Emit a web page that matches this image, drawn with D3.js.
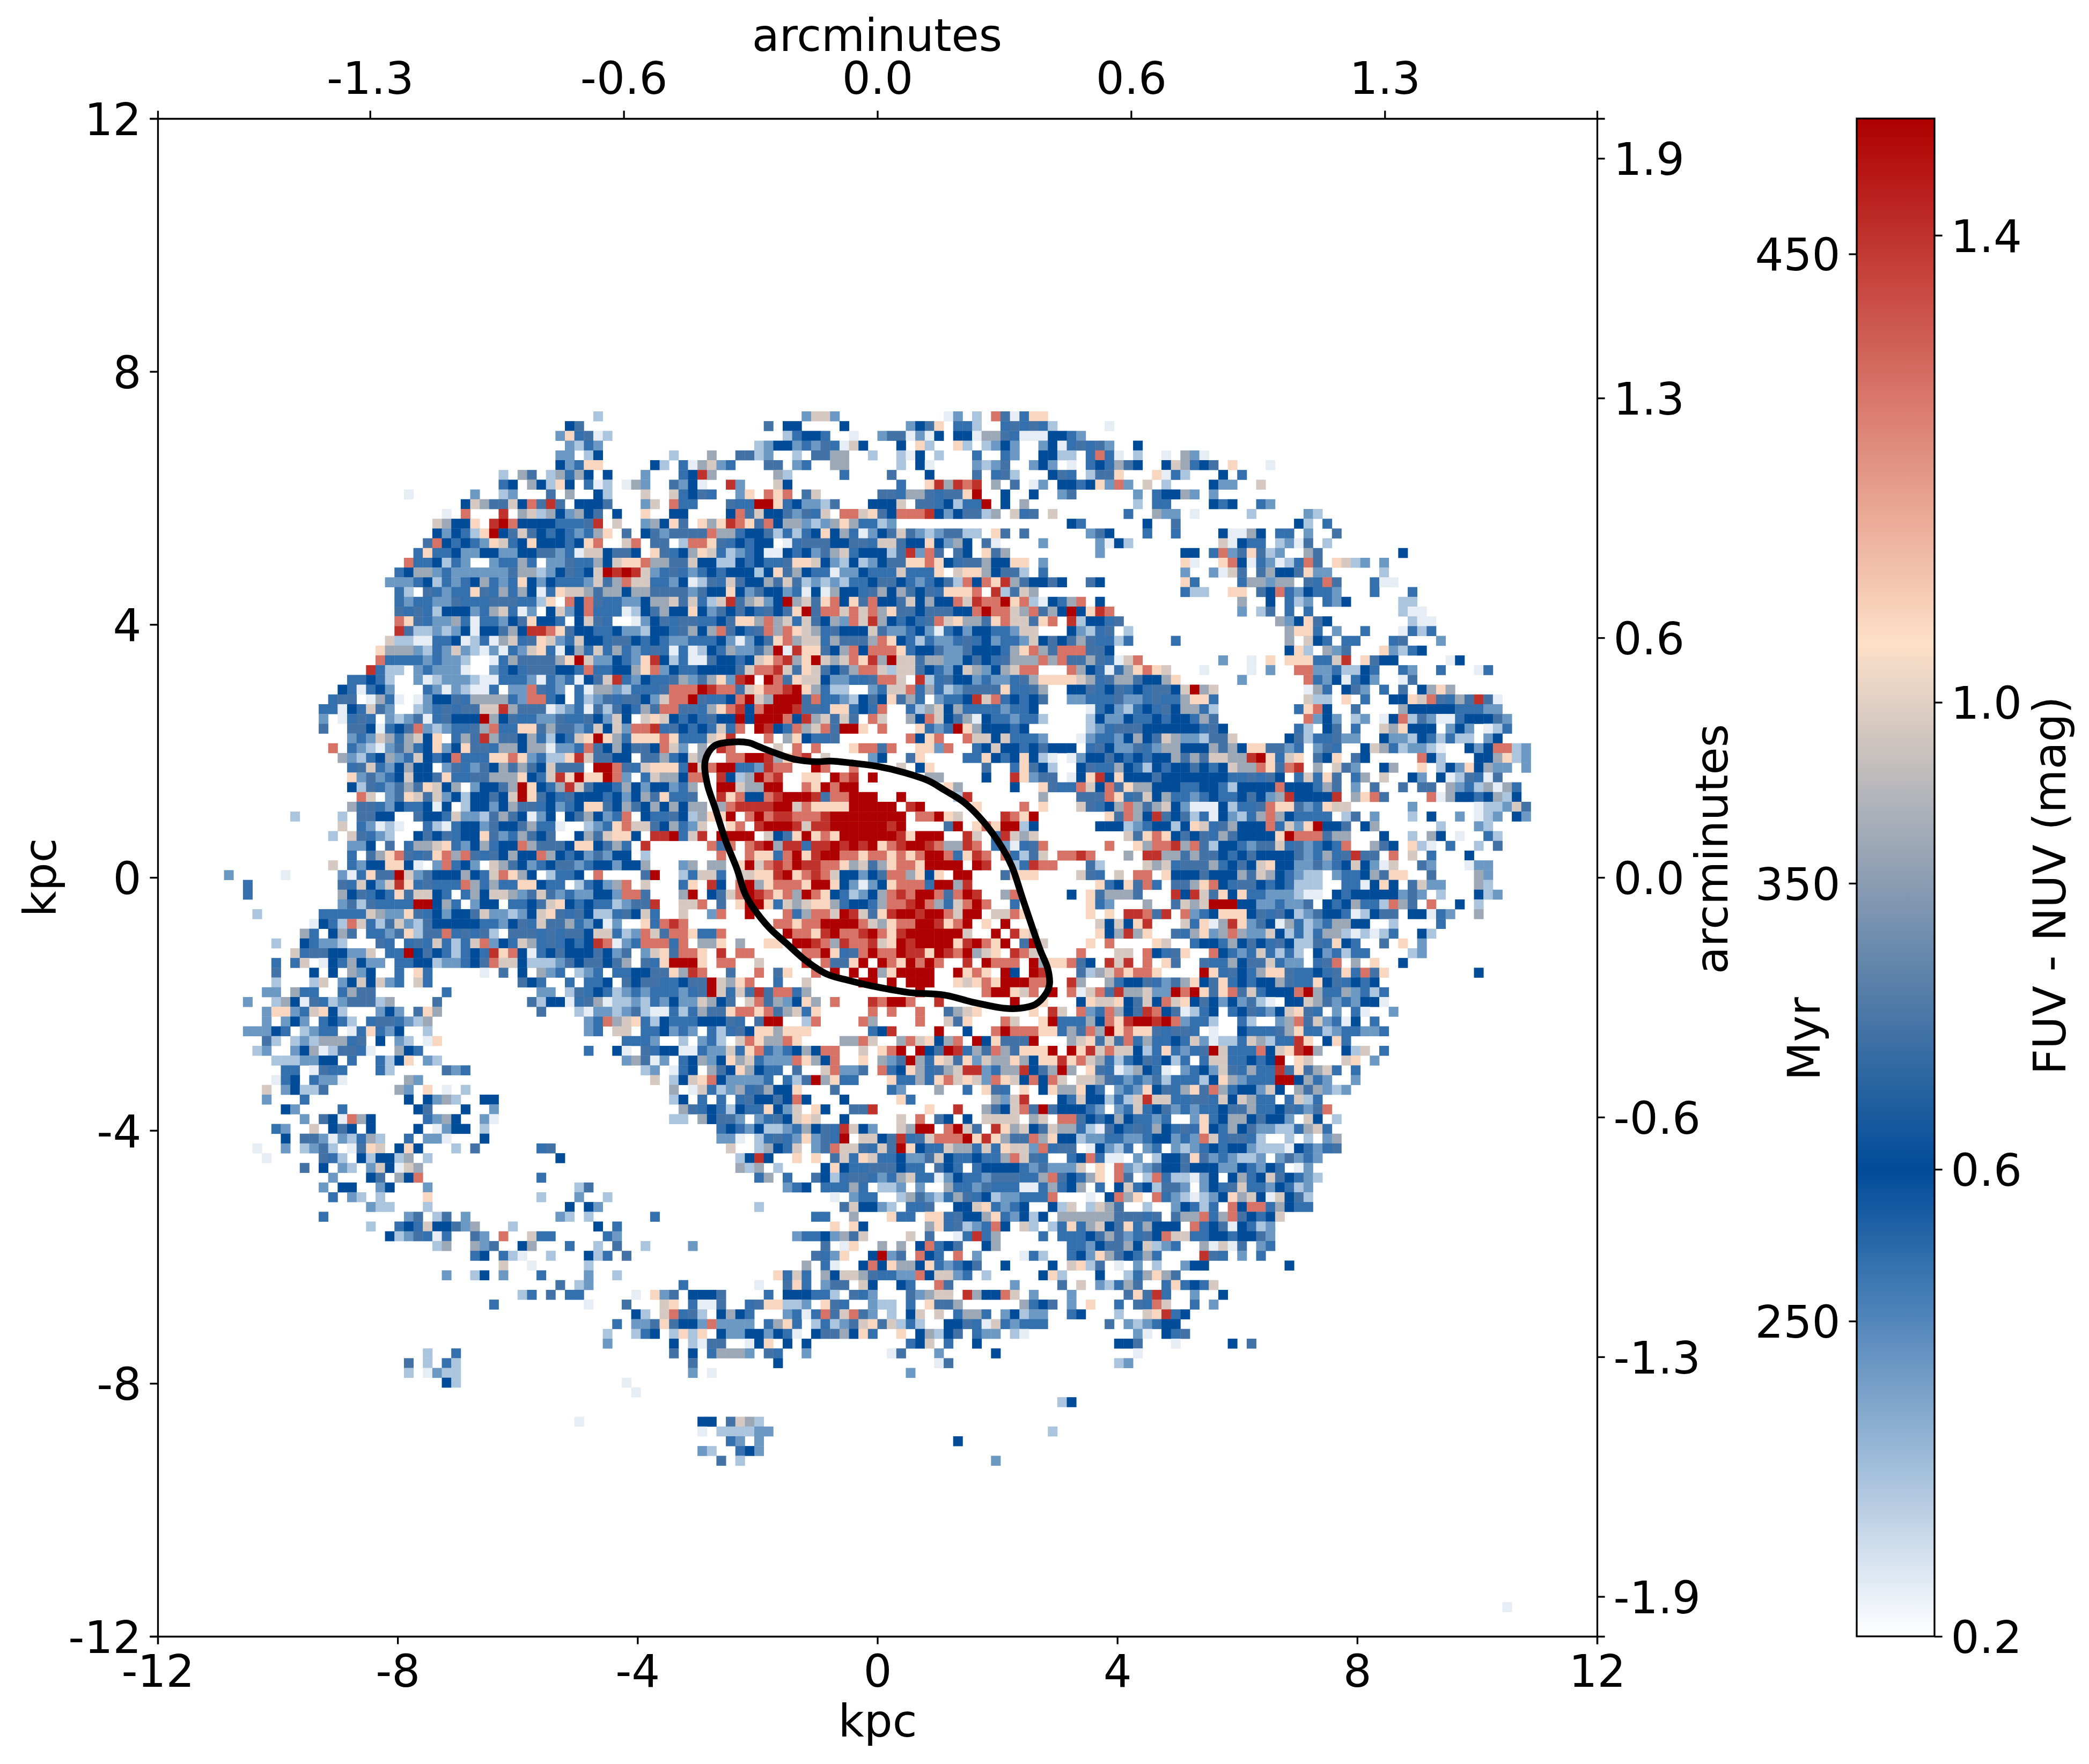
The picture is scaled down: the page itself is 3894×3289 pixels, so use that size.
<!DOCTYPE html>
<html><head><meta charset="utf-8"><style>html,body{margin:0;background:#fff}svg{display:block}text{font-family:"DejaVu Sans";fill:#000}</style>
<script src="https://cdn.jsdelivr.net/npm/d3@7/dist/d3.min.js"></script></head><body><svg id="c" width="3894" height="3289"></svg>
<script>
// colour levels: one symbol per FUV-NUV level, "." = no pixel
const levelSymbols = "0123456789ab";
const levelValues = [0.24,0.33,0.43,0.52,0.6,0.72,0.88,0.98,1.07,1.27,1.4,1.5];
const gridCols = 152, gridRows = 155.5;
const tileOrigins = {NW:[6,30],N:[51,30],NE:[96,31],W:[6,57],C:[51,57],E:[96,57],SW:[6,95],S:[51,95],SE:[96,95],FAR:[142,152]};
const tileNW = [
"........................................1",
".....................................45",
"....................................283501",
".....................................2132",
"....................................22.14",
"....................................42388",
"..............................1.65.16364.4",
"..............................34.64184.301.06",
"....................0......2..12...5.6..41",
"..........................476557495a5.4445",
"........................0.9...a.671642645.4",
".......................76448.ab944443335a.7",
".......................424318b457543432368.5.",
"......................5943432873484443489..79",
".....................383342244224455230774554",
"....................9334132..23363.2253364788",
"...................3466232222225661245347baba",
"..................222341323463238424333275697",
"...................31.53233853636403877656646",
"...................32332253335553318.94953322",
"...................535314442367302.4724933301",
"...................985322630332458443.4753..0",
"...................a5112124044564aa9854433422",
"..................711003340130673587237443554",
".................8666213272102032783046373632",
".................9333323221..036555568b722432",
"................a311.232220..2343555443933446"];
const tileN = [
".................2772...........02.1.950388",
".............5.44....4......2458.331..353531",
"...............13443..0..2550204.44066530004 4",
"............12442325307 4...4.81..81.1242..2401",
"...1...6..5512..1.5566..1..104.1...3..32..441",
".41.306723...55.23..66.....1.40....2125..242",
"2...34a6......61.....3....5...4....5.351...451",
"2..5240..a2...74...........3..8a6a9a.6.5.02.4",
"7..73453..28.989.57......553665355 8b..4..4..2",
"27.933...533bb8342215...44 47.55341 33b.4.6",
"8..44....49574452537.997854999a424551 6.735.7.0",
"26485.868a98594662126863312...",
"452555596634451313484630245752125511.85.5",
".55.1998534344.0355544553775448426 4.50....2",
".85346873123400434256734441 5a295.54.856",
"966557441143433588742141245588984355644 88.2",
"72353234344414856433022433373338.7886455 1.3",
"733240153754465751212133455432345194 98a654454",
"655552544842544230406443564654538889.a1576",
"466757317a567 24b6758948594457464497a99b8 91043",
"45644842545435458b5997979685545554 49b9976956456",
"2453553345886967375462 97a64343597866589775 89",
"144356469543596987635444752234203424433277",
"34322333420245896773655569843132235342332 7454",
"35303014362256b0a88546949998344522544436896 59",
"8a41300544347 89a68b767 98a6b77566224543566 6969",
"8924334444 579 9a75875456997 1775432476246799"].map(s=>s.replace(/ /g,""));
const tileNE = [
"....0",
"32",
"35352..4",
"1.3930.1..0.620",
"0.343654..476345.8...0",
"3.1558...8031...4.3",
"4348292.7.1....422..7",
"5......2.34462.2",
".......1.33....434..32",
"......3..622.0.....1.....21",
"43......4..5............41.3",
"..254...3..3....40064.33.2..5",
"...2041.........70433.1205.1",
"...2........44.39258512..65........4",
"............80..89403201395.8712.2",
"............2..2075.56445822.....1",
"..54........83....366266.5395...300",
"............311..88.549324332...3...3",
"69.4..............6..4.312.324.....11",
"b48a9.............2.15.3.3.........100",
"a14435................624854........100",
"42135.1................6883.2..3...0313",
"5653313....3...........6.743.33...35...2",
"99554..................481.625...82134",
"55653079........2..0.8.888337a.8544.....04",
"96430368987...0....0.2..992231143..32..3...03"];
const tileW = [
"..............3343 1..201222100333203230457a3 26",
".............43034 2...3202100 3.22 953 2.30662 13",
"............355.0630.0244536666329934.3125355",
"...........3304375 2..123535577a6555012305154 3",
"...........2.0353.2125035444b64533225335 4274",
"...........5..554034592123356933885655237472 9",
"..............232763674 8 .365a65546314378b86387",
"............9.32102563482485536646602239546 45",
".............62134623743493338898231 18a755 44",
"..............35732464 4.2532546565475 55.bb953",
"..............82523474458335566684 37a8b88b92",
"..............41532565874 6.2445 6b84 36a7544364",
"...............97.258757241445 47b854354443424",
"..............6553243340 4.144246553423488546 5",
"........1....1.5544..544372215654024.456423 9",
".............7.32010..3103442544563 30..12389 78",
"............1.7532 1..45453448523654 5..4657884",
"..............224.5.3667832463449 6555488 4563",
"..............3.568953589 695354 644964 34 25244".replace(/ /g,"").replace(/^(.{45}).*/,"$1"),
"............7.3244884 0.2934 2.765423455234424 47",
".2.....0.....203855b72544464379864.1334.9",
"...3.........537427a835333963633884 33.134269",
"...3.........645343 8577 43.36477625752322442 99",
".............25153333bb4 63.244.33457 8434331259",
"....1......333337622853424457221247853541 1354",
"..........04319731572154444433245375563240 2",
".........63.465.3325815593535 1.555353554773 12",
"......1..43221...53.3537313792437635343 4a9023",
"........7355442 27.33b454313 43a894034544454 25",
"......3.37.0436422.3344122345977411125455456",
"......5...4.4.624..3.83.....0.5.4.623.123.3 3433.35",
"......1...17.2474723.73.........543..3.334.54",
".....22.633..3655.......3.........22.153431232",
"...2..1640531255516....5.........5144035 60112",
".....2882378 41...242.586..........5...10221252",
".....2.242.3431.35532 16................2396 78",
"...22243.1233.0383 24..1................23.77",
".....51.12166635.4.21.08...................331"].map(s=>s.replace(/ /g,""));
const tileC = [
"433562568 2ab.b958774223359 97.a13544232235688 8",
"335999ba9957899ab8 63 11..237 7936312555583 356",
"42799b5334 9b76bbb5933214548563.2334a7934345",
"659955368 9a49bbba553883439..3167463333 2334",
"78743435 44b4bbb94a67575.97..64974560433233 1",
"9a354343 739.ba4396795bb8.9...8323b8644434",
"889833378a...9.684335.......9489..977473332",
"54972.6.a9....7.9.9...89959..8829..3474434544",
"556347 6..99bba689a.7....24..58....338434 8410",
"78883b79bb332a99..b9..9....7.48.....5..38541",
"376649 9.a416b9a..88.b9a.b.....66....4..a8255",
"24423 6..bb766bb..98b9bb.........86.....4..853",
"658335..a89449abbba599bbb..b.....1a.......6",
"464646 6.69aaaabb798888bbbbb.ab.....8....9.8",
"433541 688b.9b9aa999abbbbbbbb.99b87....a98b",
"754632 7..89.abbba7aabbbbbbab....5b.898bb14",
".aab37 a.bbbb.7458b898bbbbbba8bbb..a7.3a767",
"a......959.9ab6aa3aabab ab8 9abba966a9.320359",
"1.......9..98839b8abb99899898 9bb938a9.93157.9",
"6...26.66.8b79a9baa99867568998bbbb.ba..13a99",
"5b..1377 3.778 8ab89a974424599 6848.bb...58 88",
"7...38.a4.9b6899 98bb84202489 993bb6a",
"5...6b.4579ba9896b98431246 9a9bb959ba..69",
"5a..779.5.8bb83767 88634436 99ab96379b9..3",
"73..7..29..b...936 997ba758abbabb97bb.7798",
"8 39a9.........9989 9bbbb97689 9bba89b.8.b",
"975998 339......b998ab99ab98abbbbbb7..b.a87",
"99939.668.6..88.bba96a99a78bab bbb8ab98b.5b7",
"278599 8.a.99.....99b8359b99ba a8ba9b678.a97",
"538bbb8.99..7....a.9558b.b98b9b9..a.b999.b688",
"45586a 9..5..9.58..9.b.b.b68bbbb..b898.b4.ba",
"55334 55b7689..3..7.....bb.b.bbb..8789 8bbb99",
"2333235b7375a59936...........b......9bb879.b",
"1324227645.795624 86.9...a9bb9..a.......b..8",
"10031365589989567 38.....9.9..9..5678.....8.a7",
"3143334445 3.5bb..19....96....9..758...97..8b36",
"334232.313548868 88......34a....b..4..9b99988 3b",
"32..1.231.7986698....669 7..6978469.b485 55b"].map(s=>s.replace(/ /g,""));
const tileE = [
"876356654468......2......93240342..05",
"4453453435547b67.........063.452.3.5.4686",
"2233352235336883.........711.8.3..448795365a50",
"..03421343546631........3894..5....64444433322",
"..14224334344365.........9242.12.04915200344452",
"..123555444444354.......31.45.3..768444.242.013",
".02332464576221557.....45133522..4221431311.24",
"4.35422532664446564885523.253..476312210..4249912",
"0244543434465657766ab8378.548.54.....941...446812",
".45336431434454347669859a.6.752..46..8.14284622.2",
"048a4844454444444335354.37385.36.7..42.4015305",
"39749586644433443144449444365.2.5..5.55.62316063",
".5559835746332343345426a4444a.6895....9064434614",
".75346965674200041335988523877......2......011275",
"....85964a545130421369643333.15.2...1.4..2.012.42",
"...44412344148735644493728b445.46......1...21",
"......75898454536544448b999566...4..1.64.0..31",
"....9..8699a695144325573523439..654.810.3..1.5",
"9a9...6.aa66565543454444523635a55.9.7.3...4",
"..51....767355563454784422523474207..52...022",
".753.7.99.84445444657643211.23346588..5....62",
"...8348593.5568943554343111..330484.5722...61",
"4.856665...a4a7584833222100.4344444252.1...412",
"..832...6..5767bbb44223225.4346331965.9..4.1",
"..8.8.aa95a.92348884535412544301455.44032..6",
"...74748a...73806a82540631236644..1....3",
"...846a68..536826962274131366101013..41",
"..8.9....87..344364543541153843..5.8.2",
".9...77.94358..9432373131.423133....12",
"954.a7a.9.85..53364557322.359.6.8..4",
".516798998....b8354368853343583958.........4",
"a6..63445325684583434465338453434",
"90795a66722b9b85895734449b63362313",
".487784574978454242510.44765232440",
".9239645a9450134.3453247853.2.30..2",
"336498abbab92331..31..269572304.3",
"6596b898853553.0..4333568331233223",
"678575936334372011376133a8.483"];
const tileSW = [
"....12..24601553 0..643.................3..40",
"......1112244.3..3148.21...................26",
".......33.0533...31.....523",
"......034.3220......62",
".....7.24115.......62.8.0.1",
".....2...3..........4.42 61..44",
".......42....3.......45...4..2",
".........2.54096 4.....3264..20",
"......32..7.454.4....4.0244.1",
".......4.5520 2136 1..3.220...4",
"....0..2.1251.0587.484...1.5......35",
".....0.....531.4144 16.1.............4",
".........5.4.21.274076",
"............2...45.649............3",
"...........2.44..24...2...............15",
"............3.21.1....8...........1...2..1",
"................211...1..............4.42",
"...........3........25.15.2.........21.1",
"................1..3437445 26...1........4.3",
"..................41253 03..52.9..733.....32",
".......................16..625..46...3..1.5",
"...........................34.310..1...413.5",
"..............................7..0.....1",
"........................2..14.2...3....2..1",
"....................................5.12",
"................................13.5.33.....0",
".............................3.........0...5",
"............................................4",
"..........................................3.2",
".........................................1..1",
".........................................2",
"......................1..3",
"....................5.1.31",
"....................1.0211",
"........................41.................0",
"............................................0",
"",
"",
"......................................0"].map(s=>s.replace(/ /g,""));
const tileS = [
"534400322738932346499..7.89b.b45ba3659658 88b.a",
"50 2.346248673222986 49..8.625b63875827668 6488a",
"12.034.6548643 3.5..79225.9348635 67aa236 6a456b.",
"..7.14789422223.315b6833...83363 89787298749497.".slice(1),
"...6.07312635644 8...5.....32...6..3.853.8.486",
"...14.3.3.35445494...4.....83........627a...44",
"....6534314338427.84..55a.....8..a..654795b54",
"...11.64552.235478 7..4.....7.9.54.4.7777.67.9",
"........3432411236453a742..76bb.9b75.a867457 6",
"........220.135328253b.7745a3 57999b8a8655968 4",
".........7..16437.25977 5375b8433 7663738772935 9",
"..........14a4..8.8.573873342257433433 6975 3",
"..........616.1....4843355543 3.543.3444432522",
"............36.3..5413553 2367330243325553369 5",
"...............234.33363.112.2..63325333 00363",
"....................0.233..16521365 341223339",
"............1........574421.335..4478323 4..41",
".3................33..6...833.8835446832414.6",
"....................8.84......683512394.71.13",
"................23342657....7.5..03a36....3.32",
"1....2.............5.08..6.6.49345..46.......75",
"..................53 28..4b25.943.9.2....031",
".................6.30..4948664 8323 45..4....4.2",
"..............83 73.647765332294772 3.1.....481",
"....3.......0..583.255.74..43..95......2....58",
".825.4445....3.444331.532...526 77.a6449 7.2",
"..78.3005..35881 12.853..211.3.855 6......6345",
"1.7935 1.4643...2303957952.1.47.7.366 3.24122",
"258544292222.3683.13125785713 1..44530732333",
"34.1818.42244243 0.4556483..8.46145.322.10",
"...4.1055..048.4.4..........347.3..4",
"...5.4.36662.53..2........05...2.....4",
".....5........4................05",
".....2.0....................2",
"",
"",
"............................................1",
"",
"......44.5761",
"......0.111122.............................1",
".........32.2....................4",
"......21..342",
"........5.1..........................2"].map(s=>s.replace(/ /g,""));
const tileSE = [
"b8a7977413832 35b733394 78ab6..417.3",
"8976313 4534 13.37733434b.87...78.2",
"6.85301643 0.2342753633a585673.3",
".776532325133314862333bb4632..2",
"6843.23284536 85963442 74.656212",
"374413 17a7733553747633.3713",
"44 32.2373452323345563345325 9",
"9543464332 3..2834664 5442.74.1",
"63105435 3643 53 843 645221 136 73",
"4122332 2344232973553 1..1.1.26",
"5.04213.23.212343442111043235",
"34930 0.2.144585232112.25232",
"27.8.92125445 444224324 3.02",
"4368.95.1931102 4.4634754321",
"46.3.47341552.243573324312",
"..0.4968.9321012486740 7451",
"7.1765..1..243 13.94 99364 33",
"6666 65553 5.56693695 4347",
"83674583644 4.934504312",
"3345652354977334434452",
"332455647123..60705.23",
"342865436 3....a53.2.3",
"7815.0.2.1..244........4",
"...4..1368 65",
".7.21365..38343 7",
"2.....585a3..2..4",
"2.8..3.5397..3.2",
"34...1..78a34",
"....5.212344",
".......20.435",
".....445...0.....4.5",
".......0",
".....12",
"","","",
"4"].map(s=>s.replace(/ /g,""));
const tileFAR = ["0"];
const contourX = [-2.72,-2.44,-2.14,-1.98,-1.71,-1.39,-1.02,-0.79,-0.43,-0.02,0.44,0.85,1.12,1.44,1.76,2.08,2.24,2.42,2.58,2.72,2.84,2.87,2.81,2.63,2.36,2.13,1.58,1.12,0.53,-0.02,-0.47,-0.84,-1.2,-1.52,-1.8,-2.07,-2.21,-2.34,-2.53,-2.71,-2.84,-2.87];
const contourY = [2.08,2.14,2.13,2.07,1.97,1.87,1.83,1.84,1.81,1.76,1.66,1.53,1.38,1.19,0.89,0.47,0.18,-0.33,-0.78,-1.16,-1.44,-1.69,-1.84,-2.01,-2.07,-2.07,-1.97,-1.86,-1.82,-1.73,-1.63,-1.53,-1.31,-1.04,-0.8,-0.48,-0.25,0.13,0.58,1.11,1.49,1.85];
const kpcTicks = [-12,-8,-4,0,4,8,12];
const topTickKpc = [-8.46,-4.23,0,4.23,8.46], topTickLabels = ["-1.3","-0.6","0.0","0.6","1.3"];
const rightTickKpc = [11.37,7.58,3.79,0,-3.79,-7.58,-11.37], rightTickLabels = ["1.9","1.3","0.6","0.0","-0.6","-1.3","-1.9"];
const colorTicks = [0.2,0.6,1.0,1.4];
const myrTicks = [[450,1.384],[350,0.845],[250,0.47]];
const colorStops = [0.2,0.6,1.05,1.5], colorStopHex = ["#ffffff","#004c99","#fde0c8","#ae0000"];

const svg = d3.select("#c");
const L=294,R=2977,T=221,B=3051, FS=83.3, TW=3.3, TL=14.6;
const x = d3.scaleLinear().domain([-12,12]).range([L,R]);
const y = d3.scaleLinear().domain([-12,12]).range([B,T]);
const color = d3.scaleLinear().domain(colorStops).range(colorStopHex).clamp(true);
const cols = d3.scaleLinear().domain([0,gridCols]).range([-12,12]);
const rowsS = d3.scaleLinear().domain([0,gridRows]).range([12,-12]);

const tiles = {NW:tileNW,N:tileN,NE:tileNE,W:tileW,C:tileC,E:tileE,SW:tileSW,S:tileS,SE:tileSE,FAR:tileFAR};
const widthLimit = {NW:45,N:45,W:45,C:45,SW:45,S:45};
const cells = [];
Object.keys(tiles).forEach(k=>{
  const [c0,r0]=tileOrigins[k];
  tiles[k].forEach((s,j)=>{
    [...s].forEach((ch,i)=>{
      const l=levelSymbols.indexOf(ch);
      if(l<0) return;
      if(widthLimit[k] && i>=widthLimit[k]) return;
      cells.push({c:c0+i,r:r0+j,v:levelValues[l]});
    });
  });
});
svg.append("g").selectAll("rect").data(cells).join("rect")
  .attr("x",d=>x(cols(d.c))).attr("y",d=>y(rowsS(d.r)))
  .attr("width",x(cols(1))-x(cols(0))+0.4).attr("height",y(rowsS(1))-y(rowsS(0))+0.4)
  .attr("fill",d=>color(d.v));

svg.append("path").datum(contourX.map((v,i)=>[v,contourY[i]]))
  .attr("d",d3.line().x(d=>x(d[0])).y(d=>y(d[1])).curve(d3.curveCatmullRomClosed))
  .attr("fill","none").attr("stroke","#000").attr("stroke-width",12.5);

function styleAxis(g,center){g.selectAll("path").attr("stroke-width",TW).attr("stroke","#000");
  g.selectAll("line").attr("stroke-width",TW).attr("stroke","#000");
  g.selectAll("text").attr("font-family","DejaVu Sans").attr("font-size",FS).attr("fill","#000");
  if(center) g.selectAll("text").attr("dy",".365em");
  g.attr("font-family",null).attr("font-size",null);}
const fmt=d=>String(d);
svg.append("g").attr("transform",`translate(0,${B})`).call(d3.axisBottom(x).tickValues(kpcTicks).tickFormat(fmt).tickSize(TL).tickPadding(20)).call(styleAxis,false);
svg.append("g").attr("transform",`translate(${L},0)`).call(d3.axisLeft(y).tickValues(kpcTicks).tickFormat(fmt).tickSize(TL).tickPadding(16)).call(styleAxis,true);
svg.append("g").attr("transform",`translate(0,${T})`).call(d3.axisTop(x).tickValues(topTickKpc).tickFormat((d,i)=>topTickLabels[i]).tickSize(TL).tickPadding(31)).call(styleAxis,false);
svg.append("g").attr("transform",`translate(${R},0)`).call(d3.axisRight(y).tickValues(rightTickKpc).tickFormat((d,i)=>rightTickLabels[i]).tickSize(TL).tickPadding(16)).call(styleAxis,true);

// colour bar
const CL=3461,CR=3606;
const cb = d3.scaleLinear().domain([0.2,1.5]).range([B,T]);
const defs=svg.append("defs").append("linearGradient").attr("id","g").attr("x1",0).attr("x2",0).attr("y1",1).attr("y2",0);
colorStops.forEach((v,i)=>defs.append("stop").attr("offset",(v-0.2)/1.3).attr("stop-color",colorStopHex[i]));
svg.append("rect").attr("x",CL).attr("y",T).attr("width",CR-CL).attr("height",B-T).attr("fill","url(#g)").attr("stroke","#000").attr("stroke-width",TW);
svg.append("g").attr("transform",`translate(${CR},0)`).call(d3.axisRight(cb).tickValues(colorTicks).tickFormat(d3.format(".1f")).tickSize(TL).tickPadding(16)).call(styleAxis,true).select("path").attr("display","none");
svg.append("g").attr("transform",`translate(${CL},0)`).call(d3.axisLeft(cb).tickValues(myrTicks.map(d=>d[1])).tickFormat((d,i)=>myrTicks[i][0]).tickSize(TL).tickPadding(16)).call(styleAxis,true).select("path").attr("display","none");

function label(t,px,py,rot){svg.append("text").text(t).attr("font-size",FS).attr("text-anchor","middle")
  .attr("transform",`translate(${px},${py})`+(rot?` rotate(${rot})`:""));}
label("arcminutes",1635,95);
label("kpc",1636,3238);
label("kpc",104,1636,-90);
label("arcminutes",3220,1583,-90);
label("Myr",3392,1937,-90);
label("FUV - NUV (mag)",3850,1651,-90);
</script></body></html>
